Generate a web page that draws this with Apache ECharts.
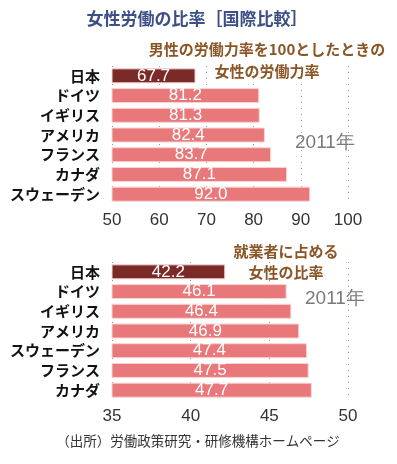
<!doctype html>
<html>
<head>
<meta charset="UTF-8">
<title>女性労働の比率</title>
<script src="https://cdn.jsdelivr.net/npm/echarts@6/dist/echarts.min.js"></script>
<style>
  html, body { margin: 0; padding: 0; background: #fff; }
  #main { width: 397px; height: 464px; }
</style>
</head>
<body>
<div id="main"></div>
<script>
// 労働力率（男性=100）
var countries1 = ['日本', 'ドイツ', 'イギリス', 'アメリカ', 'フランス', 'カナダ', 'スウェーデン'];
var values1 = [67.7, 81.2, 81.3, 82.4, 83.7, 87.1, 92.0];
var ticks1 = [50, 60, 70, 80, 90, 100];
// 就業者に占める女性の比率
var countries2 = ['日本', 'ドイツ', 'イギリス', 'アメリカ', 'スウェーデン', 'フランス', 'カナダ'];
var values2 = [42.2, 46.1, 46.4, 46.9, 47.4, 47.5, 47.7];
var ticks2 = [35, 40, 45, 50];

var JP = '"Noto Sans CJK JP", sans-serif';
var NUM = '"Liberation Sans", Arial, sans-serif';
var pink = '#e8787a';
var dark = '#7b2b27';

function barData(names, vals) {
  return vals.map(function (v, i) {
    return {
      value: v,
      itemStyle: { color: names[i] === '日本' ? dark : pink }
    };
  });
}

function xAx(idx, ticks) {
  return {
    gridIndex: idx,
    type: 'value',
    min: ticks[0],
    max: ticks[ticks.length - 1],
    interval: ticks[1] - ticks[0],
    axisLine: { show: false },
    axisTick: { show: false },
    axisLabel: { color: '#333', fontSize: 17, fontFamily: NUM, margin: 8 },
    splitLine: { show: true, lineStyle: { type: [1, 5], color: '#999', width: 1 } }
  };
}

function yAx(idx, names) {
  return {
    gridIndex: idx,
    type: 'category',
    data: names,
    inverse: true,
    axisLine: { show: false },
    axisTick: { show: false },
    axisLabel: { color: '#111', fontSize: 15, fontWeight: 'bold', fontFamily: JP, margin: 12 }
  };
}

function ser(idx, names, vals) {
  return {
    type: 'bar',
    xAxisIndex: idx,
    yAxisIndex: idx,
    barWidth: 15,
    data: barData(names, vals),
    itemStyle: { borderColor: '#f7d6d2', borderWidth: 1 },
    label: {
      show: true,
      position: 'inside',
      color: '#fff',
      fontSize: 17,
      fontFamily: NUM,
      formatter: function (p) { return p.value.toFixed(1); }
    },
    animation: false
  };
}

var chart = echarts.init(document.getElementById('main'));
chart.setOption({
  animation: false,
  grid: [
    { left: 112, width: 236, top: 66, height: 138 },
    { left: 112, width: 236, top: 262, height: 138 }
  ],
  xAxis: [xAx(0, ticks1), xAx(1, ticks2)],
  yAxis: [yAx(0, countries1), yAx(1, countries2)],
  series: [ser(0, countries1, values1), ser(1, countries2, values2)],
  graphic: [
    { type: 'text', x: 197, y: 10,
      style: { text: '女性労働の比率［国際比較］', fill: '#3c4f86', font: 'bold 17px ' + JP, align: 'center' } },
    { type: 'text', x: 267, y: 38,
      style: { text: '男性の労働力率を100としたときの\n女性の労働力率', fill: '#8a5626', font: 'bold 15px ' + JP,
               align: 'center', lineHeight: 22 } },
    { type: 'text', x: 295, y: 133,
      style: { text: '2011年', fill: '#7a7a7a', font: '19px ' + NUM } },
    { type: 'text', x: 286, y: 241,
      style: { text: '就業者に占める\n女性の比率', fill: '#8a5626', font: 'bold 15px ' + JP,
               align: 'center', lineHeight: 21 } },
    { type: 'text', x: 305, y: 289,
      style: { text: '2011年', fill: '#7a7a7a', font: '19px ' + NUM } },
    { type: 'text', x: 198, y: 434,
      style: { text: '（出所）労働政策研究・研修機構ホームページ', fill: '#333', font: '13.5px ' + JP, align: 'center' } }
  ]
});
</script>
</body>
</html>
